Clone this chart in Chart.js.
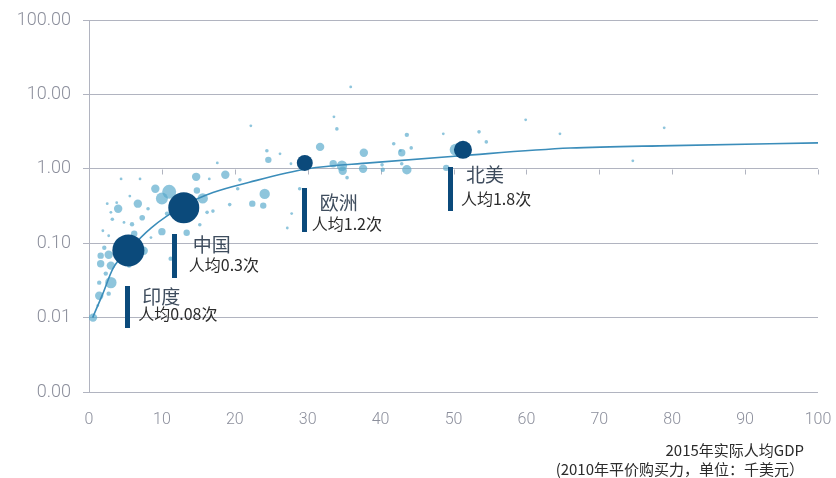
<!DOCTYPE html>
<html>
<head>
<meta charset="utf-8">
<script src="https://cdn.jsdelivr.net/npm/chart.js@4.4.1/dist/chart.umd.min.js"></script>
<style>
  html, body { margin: 0; padding: 0; background: #fff; }
  #wrap { width: 836px; height: 478px; }
</style>
</head>
<body>
<div id="wrap"><canvas id="chart"></canvas></div>
<script>
// Regions called out on the chart
const regionNames = ['印度', '中国', '欧洲', '北美'];
const regionGdp = [5.4, 13.0, 29.6, 51.3];
const regionTrips = [0.08, 0.3, 1.2, 1.8];
const regionSize = [16, 15.5, 8, 9];

// Other countries: per-capita GDP, trips per person, bubble size
const countryGdp = [
  22.2, 24.4, 24.6, 26.2, 17.6, 14.7, 18.7, 20.7, 4.4, 7.0,
  9.1, 11.0, 10.0, 15.6, 14.8, 6.7, 4.0, 2.5, 7.3, 19.3,
  22.4, 23.9, 24.1, 17.0, 3.2, 10.0, 13.4, 1.9, 6.2, 35.9,
  33.6, 34.0, 31.7, 37.7, 33.5, 34.7, 34.8, 37.6, 27.7, 35.4,
  20.4, 28.9, 27.8, 27.2, 59.9, 64.6, 43.6, 41.8, 48.6, 53.5,
  54.5, 44.2, 42.9, 42.9, 40.2, 43.6, 40.3, 49.0, 50.3, 42.7,
  78.9, 74.6, 5.6, 5.9, 4.8, 3.0, 3.8, 2.7, 11.2, 8.5,
  7.3, 8.1, 16.2, 15.2, 10.7, 16.5, 2.1, 1.6, 2.7, 1.6,
  3.0, 3.0, 1.4, 2.3, 1.4, 2.7, 0.55, 1.2, 5.5, 7.5
];
const countryTrips = [
  3.78, 1.75, 1.32, 1.59, 1.20, 0.78, 0.83, 0.71, 0.73, 0.73,
  0.54, 0.49, 0.40, 0.40, 0.51, 0.34, 0.29, 0.34, 0.22, 0.33,
  0.34, 0.32, 0.46, 0.27, 0.21, 0.143, 0.138, 0.147, 0.134, 12.6,
  5.0, 3.44, 1.97, 1.64, 1.17, 1.10, 0.94, 1.00, 1.17, 0.76,
  0.54, 0.54, 0.25, 0.16, 4.55, 2.95, 2.86, 2.17, 2.95, 3.14,
  2.30, 1.91, 1.64, 1.17, 1.13, 0.97, 0.97, 1.03, 1.80, 1.75,
  3.55, 1.28, 0.43, 0.18, 0.19, 0.26, 0.35, 0.126, 0.062, 0.119,
  0.087, 0.29, 0.26, 0.177, 0.25, 0.73, 0.087, 0.068, 0.070, 0.053,
  0.050, 0.0295, 0.0295, 0.039, 0.0197, 0.021, 0.0100, 0.0145, 0.050, 0.079
];
const countrySize = [
  1.4, 1.8, 3.2, 1.4, 1.4, 4.2, 4.2, 1.8, 1.4, 1.4,
  4.2, 7, 6, 5.2, 3.2, 4.2, 4.2, 1.4, 2.8, 1.8,
  3.2, 3.2, 5.2, 1.8, 1.8, 3.7, 3.2, 1.4, 3.2, 1.4,
  1.4, 1.8, 4.2, 4.2, 3.7, 5.2, 4.2, 4.2, 1.4, 1.8,
  1.8, 1.8, 1.4, 1.4, 1.4, 1.4, 2.2, 1.8, 1.4, 1.8,
  1.8, 1.8, 3.7, 1.8, 1.8, 4.7, 2.2, 3.2, 6, 1.4,
  1.4, 1.4, 1.4, 2.2, 1.4, 1.4, 1.4, 1.4, 2.2, 1.4,
  1.4, 1.8, 1.8, 1.8, 2.2, 1.4, 2.2, 3.2, 4.2, 3.7,
  4.2, 5.7, 2.2, 2.2, 4.2, 2.2, 4.2, 1.4, 2.2, 4.2
];

// Trend line read along its path
const trendGdp = [0.5, 1.9, 3.3, 5.4, 8.5, 13, 17, 22, 30, 38.5, 51, 66, 80, 100];
const trendTrips = [0.010, 0.021, 0.046, 0.08, 0.16, 0.32, 0.48, 0.66, 1.0, 1.2, 1.5, 1.9, 2.05, 2.23];

const yTicks = [0.001, 0.01, 0.1, 1, 10, 100];
const xTitle = ['2015年实际人均GDP', '(2010年平价购买力，单位：千美元）'];

const GRID = '#b1b4c0';
const NAVY = '#0b4a7b';
const CJK = '"Noto Sans CJK SC", "Noto Sans", sans-serif';
const NUM = 'Roboto, "Liberation Sans", sans-serif';

// where the bar / name / note sit relative to each region's bubble
const callouts = [
  { dx: -1, top: 36, len: 42, nameX: 14, nameY: 46, noteX: 10, noteY: 64 },
  { dx: -9, top: 26, len: 44, nameX: 9, nameY: 37, noteX: 5, noteY: 57 },
  { dx: 0, top: 25, len: 44, nameX: 15, nameY: 40, noteX: 7, noteY: 61 },
  { dx: -12, top: 17, len: 44, nameX: 3, nameY: 25, noteX: -2, noteY: 49 }
];

const annotate = {
  id: 'annotate',
  beforeDatasetsDraw(chart) {
    // small x ticks hanging off the 1.00 line
    const { ctx, scales: { x, y } } = chart;
    const y1 = Math.round(y.getPixelForValue(1)) + 0.5;
    ctx.save();
    ctx.strokeStyle = GRID;
    ctx.lineWidth = 1;
    for (let v = 10; v <= 100; v += 10) {
      const px = Math.round(x.getPixelForValue(v)) + 0.5;
      ctx.beginPath();
      ctx.moveTo(px, y1);
      ctx.lineTo(px, y1 + 5);
      ctx.stroke();
    }
    ctx.restore();
  },
  afterDatasetsDraw(chart) {
    const { ctx, scales: { x, y } } = chart;
    ctx.save();
    regionNames.forEach((name, i) => {
      const c = callouts[i];
      const px = x.getPixelForValue(regionGdp[i]);
      const py = y.getPixelForValue(regionTrips[i]);
      ctx.fillStyle = NAVY;
      ctx.fillRect(Math.round(px + c.dx - 2.5), Math.round(py + c.top), 5, c.len);

      ctx.textBaseline = 'middle';
      ctx.textAlign = 'left';
      ctx.fillStyle = '#3f4d5e';
      ctx.font = '19px ' + CJK;
      ctx.fillText(name, px + c.nameX, py + c.nameY);
      ctx.fillStyle = '#2b2b2b';
      ctx.font = '16px ' + CJK;
      ctx.fillText('人均' + regionTrips[i] + '次', px + c.noteX, py + c.noteY);
    });

    // axis title, right aligned under the x labels
    ctx.fillStyle = '#2b2b2b';
    ctx.font = '15px ' + CJK;
    ctx.textAlign = 'right';
    ctx.fillText(xTitle[0], 804, 450);
    ctx.fillText(xTitle[1], 804, 469);
    ctx.restore();
  }
};

const regionPoints = regionNames.map((_, i) => ({ x: regionGdp[i], y: regionTrips[i], r: regionSize[i] }));
const countryPoints = countryGdp.map((g, i) => ({ x: g, y: countryTrips[i], r: countrySize[i] }));
const trendPoints = trendGdp.map((g, i) => ({ x: g, y: trendTrips[i] }));

new Chart(document.getElementById('chart'), {
  type: 'bubble',
  data: {
    datasets: [
      {
        label: '地区',
        data: regionPoints,
        backgroundColor: NAVY,
        borderWidth: 0,
        order: 0
      },
      {
        type: 'line',
        label: '趋势',
        data: trendPoints,
        borderColor: '#3b8dba',
        borderWidth: 1.6,
        pointRadius: 0,
        fill: false,
        cubicInterpolationMode: 'monotone',
        order: 1
      },
      {
        label: '国家',
        data: countryPoints,
        backgroundColor: 'rgba(88,170,204,0.68)',
        borderWidth: 0,
        order: 2
      }
    ]
  },
  options: {
    responsive: true,
    maintainAspectRatio: false,
    animation: false,
    layout: { padding: { top: 20, right: 18, left: 0, bottom: 0 } },
    plugins: {
      legend: { display: false },
      tooltip: { enabled: false }
    },
    scales: {
      x: {
        type: 'linear',
        min: 0,
        max: 100,
        grid: { display: false },
        border: { display: false },
        ticks: {
          stepSize: 10,
          autoSkip: false,
          maxRotation: 0,
          padding: 10,
          color: '#8c8f9c',
          font: { family: NUM, size: 16, weight: '300' }
        },
        afterFit(scale) {
          scale.height = 86;
          // edge labels may hang outside the plot
          scale.paddingLeft = 0;
          scale.paddingRight = 0;
        }
      },
      y: {
        type: 'logarithmic',
        min: 0.001,
        max: 100,
        grid: { color: GRID, lineWidth: 1, tickLength: 6 },
        border: { color: GRID },
        ticks: {
          padding: 12,
          color: '#8c8f9c',
          font: { family: NUM, size: 18, weight: '300' },
          callback: v => Number(v).toFixed(2)
        },
        afterBuildTicks(scale) { scale.ticks = yTicks.map(v => ({ value: v })); },
        afterFit(scale) {
          scale.width = 89;
          scale.paddingTop = 0;
          scale.paddingBottom = 0;
        }
      }
    }
  },
  plugins: [annotate]
});
</script>
</body>
</html>
